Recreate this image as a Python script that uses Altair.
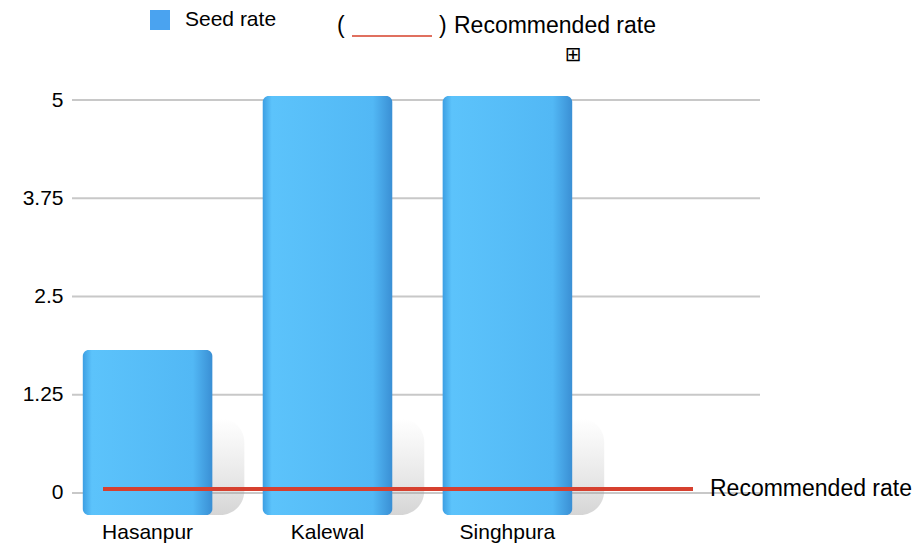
import altair as alt
import pandas as pd

villages = ["Hasanpur", "Kalewal", "Singhpura"]
seed_rate = [1.82, 5.05, 5.05]
recommended_rate = [0.05]
y_ticks = [0, 1.25, 2.5, 3.75, 5]
BASE = -0.28

df = pd.DataFrame({"village": villages, "seed": seed_rate})
ref = pd.DataFrame({"rec": recommended_rate, "label": ["Recommended rate"]})
grid = pd.DataFrame({"seed": y_ticks})

FONT = "Liberation Sans"

yscale = alt.Scale(domain=[BASE, 5], nice=False, zero=False)
yaxis = alt.Axis(title=None, values=y_ticks, domain=False, ticks=False, grid=False,
                 labelFontSize=21, labelColor="#000", labelFont=FONT,
                 labelPadding=9, labelExpr="format(datum.value, '~g')")
x = alt.X("village:N", sort=villages,
          scale=alt.Scale(range=[0, 511], paddingInner=0.28, paddingOuter=0.06),
          axis=alt.Axis(title=None, labelAngle=0, domain=False, ticks=False,
                        labelFontSize=21, labelColor="#000", labelFont=FONT,
                        labelPadding=6))

gridlines = alt.Chart(grid).mark_rule(color="#c8c8c8", strokeWidth=2).encode(
    y=alt.Y("seed:Q", scale=yscale, axis=yaxis), x=alt.value(0), x2=alt.value(688))

shadow = alt.Chart(df).transform_calculate(top="0.95").mark_bar(
    xOffset=32, cornerRadius=24,
    color=alt.Gradient(gradient="linear", x1=0, x2=0, y1=0, y2=1,
                       stops=[alt.GradientStop(offset=0, color="rgba(170,170,170,0)"),
                              alt.GradientStop(offset=0.6, color="rgba(165,165,165,0.25)"),
                              alt.GradientStop(offset=1, color="rgba(150,150,150,0.4)")])
).encode(x=x, y=alt.Y("top:Q", scale=yscale, axis=yaxis), y2=alt.datum(BASE))

bars = alt.Chart(df).mark_bar(
    cornerRadius=6,
    color=alt.Gradient(gradient="linear", x1=0, x2=1, y1=0, y2=0,
                       stops=[alt.GradientStop(offset=0, color="#3d9fe3"),
                              alt.GradientStop(offset=0.07, color="#5cc3fb"),
                              alt.GradientStop(offset=0.85, color="#52b8f5"),
                              alt.GradientStop(offset=1, color="#3a8fd4")])
).encode(x=x, y=alt.Y("seed:Q", scale=yscale, axis=yaxis), y2=alt.datum(BASE))

rule = alt.Chart(ref).mark_rule(color="#d6402f", strokeWidth=4).encode(
    y=alt.Y("rec:Q", scale=yscale, axis=yaxis), x=alt.value(31), x2=alt.value(621))

rule_label = alt.Chart(ref).mark_text(align="left", baseline="middle", fontSize=23,
                                      font=FONT, color="#000").encode(
    y=alt.Y("rec:Q", scale=yscale, axis=yaxis), x=alt.value(638), text="label:N")

def txt(s, px, py, size=21, color="#000"):
    return alt.Chart(pd.DataFrame({"t": [s]})).mark_text(
        align="left", baseline="middle", fontSize=size, font=FONT, color=color
    ).encode(x=alt.value(px), y=alt.value(py), text="t:N")

leg_square = alt.Chart(pd.DataFrame({"t": ["Seed rate"]})).mark_square(
    size=400, color="#4aa3f0", opacity=1).encode(x=alt.value(88), y=alt.value(-80))
leg_seed = txt("Seed rate", 113, -80, 21)
leg_open = txt("(", 265, -74, 23)
leg_line = alt.Chart(pd.DataFrame({"t": [1]})).mark_rule(color="#e0705f", strokeWidth=2).encode(
    x=alt.value(280), x2=alt.value(360), y=alt.value(-64))
leg_close = txt(")", 367, -74, 23)
leg_rec = txt("Recommended rate", 382, -74, 23)
leg_icon = alt.Chart(pd.DataFrame({"t": ["⊞"]})).mark_text(
    align="center", baseline="middle", fontSize=20, font="DejaVu Sans", color="#000"
).encode(x=alt.value(501), y=alt.value(-45), text="t:N")

chart = alt.layer(gridlines, shadow, bars, rule, rule_label, leg_square, leg_seed, leg_open,
                  leg_line, leg_close, leg_rec, leg_icon).properties(
    width=688, height=415,
    autosize=alt.AutoSizeParams(type="none"),
    padding={"left": 64, "top": 92, "right": 156, "bottom": 30},
    background="white",
).configure_view(stroke=None, strokeWidth=0)

chart.save("out.html", embed_options={"renderer": "svg", "actions": False})
